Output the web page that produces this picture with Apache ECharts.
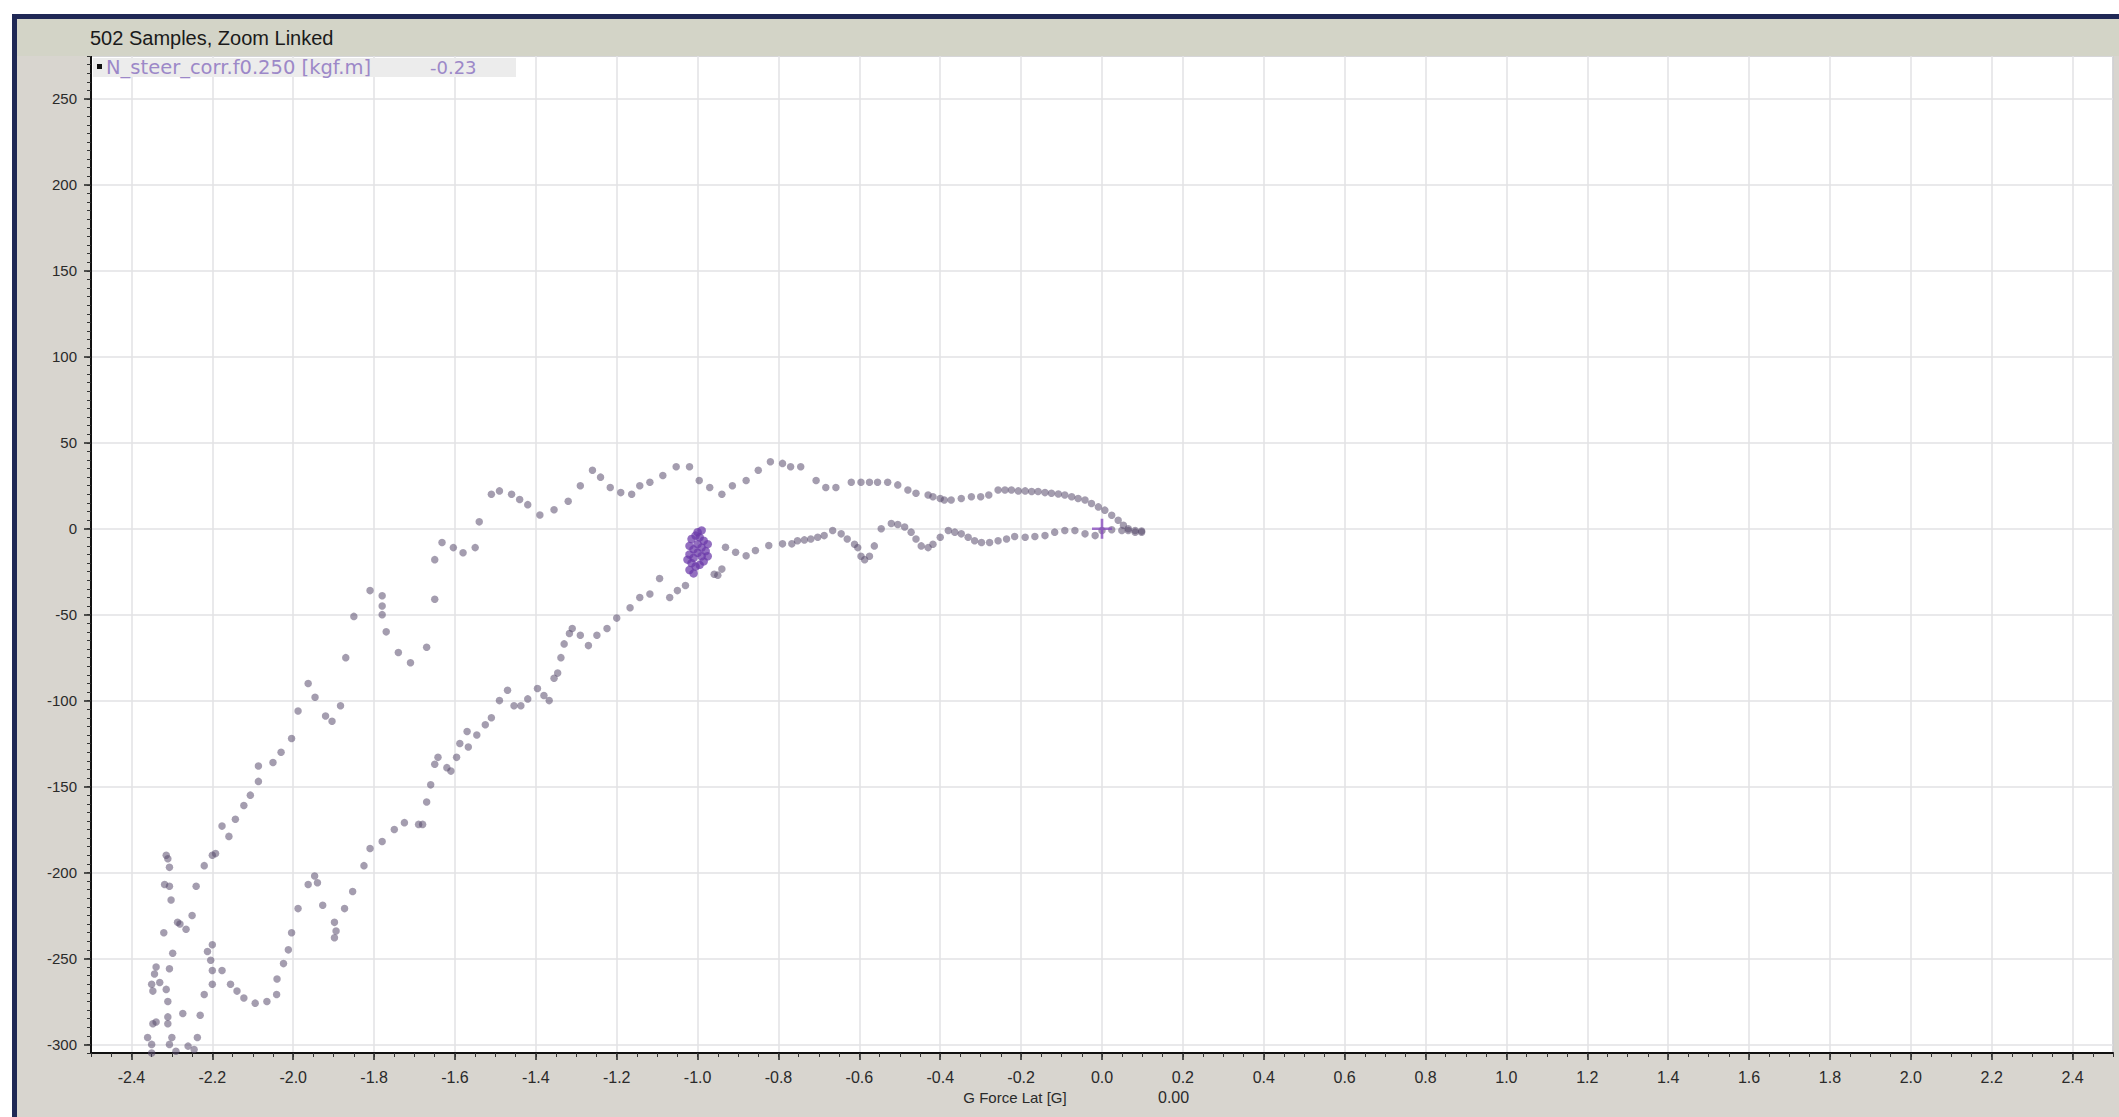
<!DOCTYPE html>
<html><head><meta charset="utf-8">
<script src="https://cdn.jsdelivr.net/npm/echarts@6/dist/echarts.min.js"></script>
<style>html,body{margin:0;padding:0;background:#fff;overflow:hidden}#c{width:2119px;height:1117px}</style>
</head><body><div id="c"></div>
<script>
const chartTitle = '502 Samples, Zoom Linked';
const seriesName = 'N_steer_corr.f0.250 [kgf.m]';
const seriesValue = '-0.23';
const xAxisName = 'G Force Lat [G]';
const xCursorValue = '0.00';
const xRange = [-2.5, 2.5];
const yRange = [-305, 275];

const outerBranch = [
[-2.36,-296],[-2.35,-305],[-2.35,-300],[-2.347,-288],[-2.339,-287],[-2.35,-265],[-2.347,-269],[-2.343,-259],[-2.339,-255],[-2.33,-264],[-2.314,-268],[-2.31,-275],[-2.31,-284],[-2.31,-288],[-2.306,-256],[-2.298,-247],[-2.302,-216],[-2.306,-208],[-2.318,-207],[-2.306,-197],[-2.31,-192],[-2.314,-190],[-2.30,-296],[-2.306,-300],[-2.29,-304],[-2.286,-229],[-2.28,-230],[-2.32,-235],[-2.265,-233],[-2.25,-225],[-2.24,-208],[-2.22,-196],[-2.2,-190],[-2.192,-189],[-2.176,-173],[-2.159,-179],[-2.143,-169],[-2.122,-161],[-2.106,-155],[-2.086,-147],[-2.086,-138],[-2.05,-136],[-2.03,-130],[-2.004,-122],[-1.988,-106],[-1.963,-90],[-1.946,-98],[-1.92,-109],[-1.904,-112],[-1.883,-103],[-1.87,-75],[-1.85,-51],[-1.81,-36],[-1.78,-39],[-1.78,-45],[-1.78,-50],[-1.77,-60],[-1.74,-72],[-1.71,-78],[-1.67,-69],[-1.65,-41],[-1.65,-18],[-1.632,-8],[-1.604,-11],[-1.58,-14],[-1.55,-11],[-1.54,4],[-1.51,20],[-1.49,22],[-1.46,20],[-1.44,17],[-1.42,14],[-1.39,8],[-1.355,11],[-1.32,16],[-1.29,25],[-1.26,34],[-1.24,30],[-1.216,24],[-1.19,21],[-1.163,20],[-1.143,25],[-1.118,27],[-1.086,31],[-1.053,36],[-1.02,36],[-0.996,28],[-0.97,24],[-0.94,20],[-0.914,25],[-0.88,28],[-0.85,34],[-0.82,39],[-0.79,38],[-0.77,36],
[-0.745,36],[-0.707,28],[-0.683,24],[-0.658,24],[-0.62,27],[-0.596,27],[-0.575,27],[-0.555,27],[-0.53,27],[-0.505,25.5],[-0.48,22.5],[-0.46,20.6],[-0.43,19.6],[-0.418,18.6],[-0.40,17.6],[-0.39,16.7],[-0.373,16.7],[-0.348,17.6],[-0.323,18.6],[-0.30,18.6],[-0.28,19.6],[-0.257,22.5],[-0.24,22.5],[-0.224,22.5],[-0.207,22],[-0.19,22],[-0.174,21.6],[-0.158,21.6],[-0.141,21],[-0.125,20.6],[-0.108,20.2],[-0.092,19.6],[-0.075,18.6],[-0.059,17.6],[-0.042,16.7],[-0.026,14.7],[-0.009,12.7],[0.007,10.8],[0.024,7.8],[0.04,4.9],[0.053,2],[0.065,0],[0.082,-1],[0.098,-1.4]
];

const innerBranch = [
[0.098,-2],[0.082,-2],[0.065,-1],[0.049,-1],[0.024,-0.6],[0,-1],[-0.017,-4],[-0.042,-3],[-0.067,-1],[-0.092,-1],[-0.117,-2],[-0.141,-4],[-0.166,-4.5],[-0.19,-5],[-0.216,-4.5],[-0.236,-6],[-0.257,-7],[-0.278,-8],[-0.298,-8],[-0.315,-7],[-0.331,-5],[-0.348,-3],[-0.364,-2],[-0.38,-1],[-0.40,-5],[-0.418,-9],[-0.43,-11],[-0.447,-10],[-0.46,-6],[-0.472,-2],[-0.488,1],[-0.505,2.5],[-0.521,3],[-0.546,0],[-0.563,-10],[-0.575,-16],[-0.587,-18],[-0.596,-16],[-0.604,-11],[-0.612,-9],[-0.63,-6],[-0.645,-3],[-0.666,-1],[-0.687,-4],[-0.703,-5],[-0.72,-6],[-0.736,-6.5],[-0.753,-7],[-0.767,-8.8],[-0.79,-8.8],[-0.824,-9.8],[-0.857,-12.7],[-0.88,-15.7],[-0.906,-13.7],[-0.931,-10.8],[-0.94,-23.5],[-0.959,-26.5],[-0.95,-27],
[-1.03,-33],[-1.05,-36],[-1.069,-40],[-1.094,-29],[-1.118,-38],[-1.143,-40],[-1.167,-46],[-1.2,-52],[-1.224,-58],[-1.249,-62],[-1.27,-68],[-1.29,-62],[-1.31,-58],[-1.317,-61],[-1.33,-67],[-1.338,-75],[-1.346,-84],[-1.355,-87],[-1.367,-100],[-1.38,-97],[-1.396,-93],[-1.42,-99],[-1.437,-103],[-1.454,-103],[-1.47,-94],[-1.49,-100],[-1.51,-110],[-1.525,-114],[-1.546,-120],[-1.567,-127],[-1.57,-118],[-1.588,-125],[-1.596,-133],[-1.61,-141],[-1.62,-139],[-1.642,-133],[-1.65,-137],[-1.66,-149],[-1.67,-159],[-1.68,-172],[-1.69,-172],[-1.725,-171],[-1.75,-175],[-1.78,-182],[-1.81,-186],[-1.825,-196],[-1.853,-211],[-1.873,-221],[-1.894,-234],[-1.898,-229],[-1.898,-238],[-1.927,-219],[-1.94,-206],[-1.947,-202],[-1.963,-207],[-1.988,-221],[-2.004,-235],[-2.012,-245],[-2.024,-253],[-2.04,-262],[-2.041,-271],[-2.065,-275],[-2.094,-276],[-2.122,-273],[-2.139,-269],[-2.155,-265],[-2.176,-257],[-2.2,-257],[-2.2,-265],[-2.204,-251],[-2.2,-242],[-2.212,-246],[-2.22,-271],[-2.23,-283],[-2.237,-296],[-2.245,-303],[-2.26,-301],[-2.273,-282]
];

const denseCluster = [
[-1.015,-6],[-1.005,-4],[-0.995,-5],[-0.985,-7],[-1.02,-10],[-1.01,-12],[-1.0,-9],[-0.99,-11],[-0.98,-13],[-1.02,-15],[-1.01,-17],[-1.0,-14],[-0.99,-16],[-0.985,-19],[-1.015,-20],[-1.005,-22],[-0.995,-21],[-1.02,-24],[-1.01,-26],[-0.975,-9],[-0.975,-16],[-1.0,-2],[-0.99,-1],[-1.025,-18]
];

const cursorPoint = [[0, 0]];

const chart = echarts.init(document.getElementById('c'), null, {renderer: 'svg', width: 2119, height: 1117});
const FONT = '"Liberation Sans", Arial, sans-serif';
const WIDE = '"DejaVu Sans", Verdana, sans-serif';
const GRID = {left: 91, right: 6, top: 56, bottom: 64};
const dotColor = 'rgba(88,76,108,0.68)';

const option = {
  backgroundColor: '#d8d5cf',
  animation: false,
  grid: {left: GRID.left, right: GRID.right, top: GRID.top, bottom: GRID.bottom, show: true, backgroundColor: '#ffffff', borderColor: '#6a6a6a', borderWidth: 1},
  xAxis: [{
    type: 'value', min: xRange[0], max: xRange[1], splitNumber: 25,
    axisLine: {show: true, onZero: false, lineStyle: {color: '#111', width: 2}},
    axisTick: {show: true, length: 7, lineStyle: {color: '#222', width: 1.5}},
    axisLabel: {show: true, showMinLabel: false, showMaxLabel: false, margin: 16, color: '#2a2a2a', fontFamily: FONT, fontSize: 16,
      formatter: v => v.toFixed(1)},
    splitLine: {show: true, lineStyle: {color: '#e2e2e5', width: 1.5}}
  }, {
    type: 'value', min: xRange[0], max: xRange[1], interval: 0.05, position: 'bottom',
    axisLine: {show: false, onZero: false}, axisTick: {show: true, length: 4, lineStyle: {color: '#333', width: 1}},
    axisLabel: {show: false}, splitLine: {show: false}
  }],
  yAxis: [{
    type: 'value', min: yRange[0], max: yRange[1], splitNumber: 12,
    axisLine: {show: true, onZero: false, lineStyle: {color: '#111', width: 2}},
    axisTick: {show: true, length: 7, lineStyle: {color: '#222', width: 1.5}},
    axisLabel: {show: true, showMinLabel: false, showMaxLabel: false, margin: 14, color: '#2a2a2a', fontFamily: FONT, fontSize: 15},
    splitLine: {show: true, lineStyle: {color: '#e2e2e5', width: 1.5}}
  }, {
    type: 'value', min: yRange[0], max: yRange[1], interval: 5, position: 'left',
    axisLine: {show: false, onZero: false}, axisTick: {show: true, length: 4, lineStyle: {color: '#333', width: 1}},
    axisLabel: {show: false}, splitLine: {show: false}
  }],
  series: [
    {type: 'scatter', name: 'outer', data: outerBranch, symbol: 'circle', symbolSize: 7.5, itemStyle: {color: dotColor}, silent: true},
    {type: 'scatter', name: 'inner', data: innerBranch, symbol: 'circle', symbolSize: 7.5, itemStyle: {color: dotColor}, silent: true},
    {type: 'scatter', name: 'cluster', data: denseCluster, symbol: 'circle', symbolSize: 8.5, itemStyle: {color: 'rgba(106,56,168,0.9)'}, silent: true},
    {type: 'scatter', name: 'cursor', data: cursorPoint, z: 5,
      symbol: 'path://M-1.3,-10L1.3,-10L1.3,-1.3L10,-1.3L10,1.3L1.3,1.3L1.3,10L-1.3,10L-1.3,1.3L-10,1.3L-10,-1.3L-1.3,-1.3Z',
      symbolSize: 20, itemStyle: {color: '#8a4fbf'}, silent: true}
  ],
  graphic: [
    {type: 'rect', shape: {x: 0, y: 0, width: 2119, height: 14}, style: {fill: '#ffffff'}, z: 1},
    {type: 'rect', shape: {x: 0, y: 0, width: 12, height: 1117}, style: {fill: '#ffffff'}, z: 1},
    {type: 'rect', shape: {x: 12, y: 14, width: 2107, height: 5}, style: {fill: '#1f2855'}, z: 2},
    {type: 'rect', shape: {x: 12, y: 14, width: 5, height: 1103}, style: {fill: '#1f2855'}, z: 2},
    {type: 'rect', shape: {x: 17, y: 19, width: 2102, height: 37}, style: {fill: '#d3d4c7'}, z: 1},
    {type: 'text', x: 90, y: 38, style: {text: chartTitle, fill: '#1a1a1a', font: '20px ' + FONT, textVerticalAlign: 'middle'}, z: 3},
    {type: 'rect', shape: {x: 93, y: 58, width: 423, height: 19}, style: {fill: '#ececec'}, z: 10},
    {type: 'rect', shape: {x: 97, y: 64, width: 5, height: 5}, style: {fill: '#111'}, z: 11},
    {type: 'text', x: 106, y: 67, style: {text: seriesName, fill: '#9c88c8', font: '19.5px ' + WIDE, textVerticalAlign: 'middle'}, z: 11},
    {type: 'text', x: 430, y: 67, style: {text: seriesValue, fill: '#9c88c8', font: '18px ' + WIDE, textVerticalAlign: 'middle'}, z: 11},
    {type: 'text', x: 1015, y: 1097, style: {text: xAxisName, fill: '#2a2a2a', font: '15px ' + FONT, textAlign: 'center', textVerticalAlign: 'middle'}, z: 3},
    {type: 'text', x: 1158, y: 1097, style: {text: xCursorValue, fill: '#2a2a2a', font: '16px ' + FONT, textVerticalAlign: 'middle'}, z: 3}
  ]
};
chart.setOption(option);
</script></body></html>
